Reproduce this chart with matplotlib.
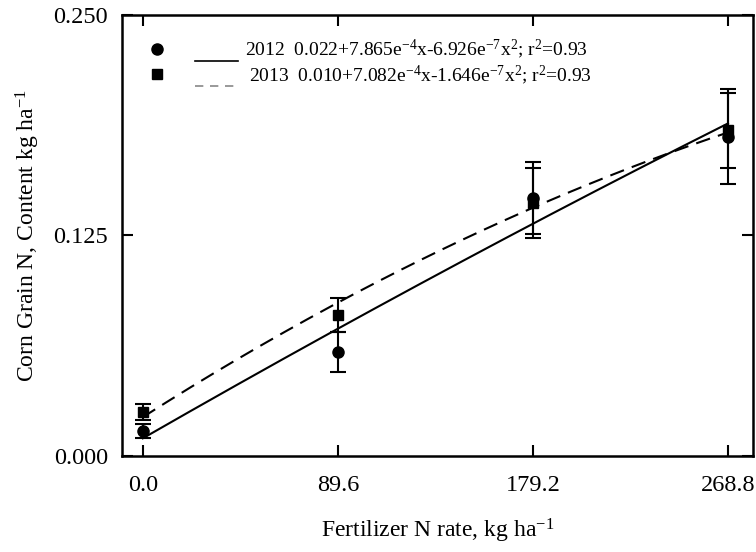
import numpy as np
import matplotlib
matplotlib.use("Agg")
import matplotlib.pyplot as plt

plt.rcParams['font.family'] = ['Liberation Serif', 'DejaVu Serif']
plt.rcParams['mathtext.fontset'] = 'custom'
plt.rcParams['mathtext.rm'] = 'Liberation Serif'
plt.rcParams['mathtext.it'] = 'Liberation Serif:italic'

# N rates (kg/ha)
n_rate = [0.0, 89.6, 179.2, 268.8]

# grain N content, means and error bars
y2012 = [0.014, 0.059, 0.1463, 0.181]
e2012 = [0.004, 0.0115, 0.0205, 0.027]
y2013 = [0.025, 0.080, 0.1435, 0.1845]
e2013 = [0.0045, 0.0097, 0.020, 0.021]

# quadratic fit coefficients (a, b, c) as drawn: solid and dashed
fit_solid = [0.010, 7.082e-4, -1.646e-7]
fit_dashed = [0.022, 7.865e-4, -6.926e-7]

lab2012 = r'2012  0.022+7.865e$^{-4}$x-6.926e$^{-7}$x$^{2}$; r$^{2}$=0.93'
lab2013 = r'2013  0.010+7.082e$^{-4}$x-1.646e$^{-7}$x$^{2}$; r$^{2}$=0.93'

fig = plt.figure(figsize=(7.56, 5.52), dpi=100)
ax = fig.add_axes([0.161, 0.174, 0.835, 0.799])

xf = np.linspace(0, 268.8, 200)
a, b, c = fit_solid
ax.plot(xf, a + b*xf + c*xf**2, color='black', lw=1.5)
a, b, c = fit_dashed
ax.plot(xf, a + b*xf + c*xf**2, color='black', lw=1.5, ls=(0, (7, 4)))

ax.errorbar(n_rate, y2012, yerr=e2012, fmt='o', color='black', ms=8,
            capsize=6, elinewidth=1.5, capthick=1.5)
ax.errorbar(n_rate, y2013, yerr=e2013, fmt='s', color='black', ms=7,
            capsize=6, elinewidth=1.5, capthick=1.5)

# manual legend
tr = ax.transAxes
ax.plot([0.056], [0.922], 'o', color='black', ms=8, transform=tr)
ax.plot([0.056], [0.866], 's', color='black', ms=7, transform=tr)
ax.plot([0.116, 0.184], [0.895, 0.895], color='black', lw=1.2, transform=tr)
ax.plot([0.116, 0.184], [0.839, 0.839], color='#888888', lw=1.2,
        ls=(0, (5, 4)), transform=tr)
ax.text(0.196, 0.922, lab2012, transform=tr, fontsize=14, va='center')
ax.text(0.202, 0.864, lab2013, transform=tr, fontsize=14, va='center')

ax.set_xlim(-9.7, 280.3)
ax.set_ylim(0, 0.25)
ax.set_xticks(n_rate)
ax.set_xticklabels(['0.0', '89.6', '179.2', '268.8'])
ax.set_yticks([0.0, 0.125, 0.25])
ax.set_yticklabels(['0.000', '0.125', '0.250'])
ax.tick_params(direction='in', length=8, width=1.5, labelsize=17.5,
               top=True, right=True)
ax.tick_params(axis='x', pad=14)
ax.tick_params(axis='y', pad=10)
for s in ax.spines.values():
    s.set_linewidth(1.8)

ax.set_xlabel(r'Fertilizer N rate, kg ha$^{-1}$', fontsize=17, labelpad=15)
ax.set_ylabel(r'Corn Grain N, Content kg ha$^{-1}$', fontsize=17, labelpad=8)

fig.savefig('out.png', dpi=100)
